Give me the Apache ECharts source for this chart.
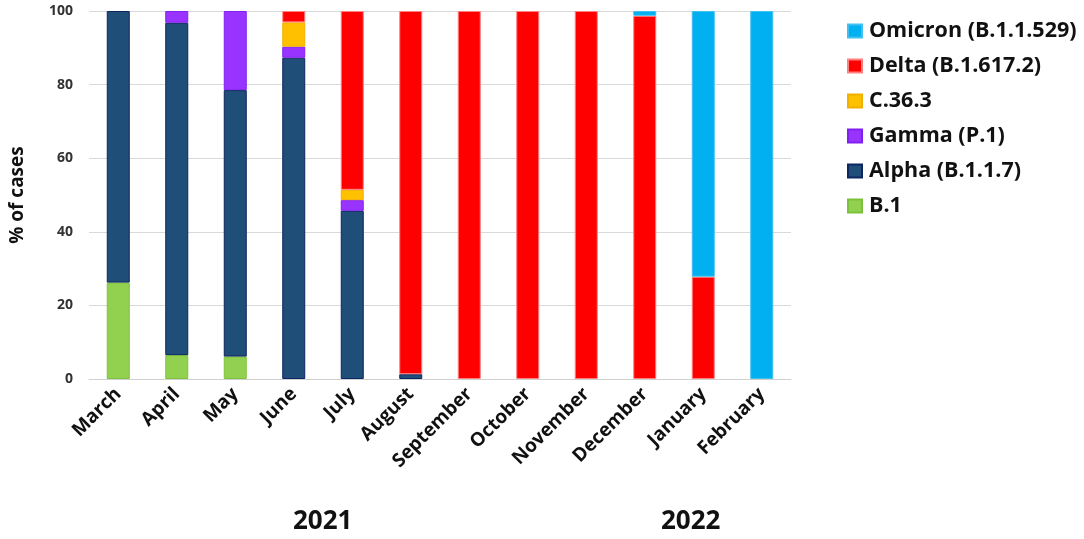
<!DOCTYPE html>
<html><head><meta charset="utf-8">
<script src="https://cdn.jsdelivr.net/npm/echarts@6/dist/echarts.min.js"></script>
<style>html,body{margin:0;padding:0;background:#fff}#c{width:1084px;height:539px}</style>
</head><body><div id="c"></div>
<script>
const categories = ['March','April','May','June','July','August','September','October','November','December','January','February'];
const b1      = [26.2, 6.5, 6.1, null, null, null, null, null, null, null, null, null];
const alpha   = [73.8, 90.3, 72.4, 87.3, 45.7, 1.3, null, null, null, null, null, null];
const gamma   = [null, 3.2, 21.5, 3.0, 2.9, null, null, null, null, null, null, null];
const c363    = [null, null, null, 6.6, 2.8, null, null, null, null, null, null, null];
const delta   = [null, null, null, 3.1, 48.6, 98.7, 100, 100, 100, 98.7, 27.8, null];
const omicron = [null, null, null, null, null, null, null, null, null, 1.3, 72.2, 100];
const yTicks = [0, 20, 40, 60, 80, 100];
const years = ['2021', '2022'];

const FONT = '"Open Sans", sans-serif';
const chart = echarts.init(document.getElementById('c'));
function s(name, data, color, border) {
  return {name, type:'bar', stack:'t', data, barWidth:23,
    itemStyle:{color, borderColor:border, borderWidth:1},
    emphasis:{disabled:true}};
}
chart.setOption({
  animation:false,
  textStyle:{fontFamily:FONT},
  grid:{left:88, right:293, top:11, bottom:160},
  legend:{
    orient:'vertical', left:842, top:14, itemGap:11,
    itemWidth:14, itemHeight:13, icon:'rect',
    textStyle:{fontSize:21.5, fontWeight:'bold', color:'#111', fontFamily:FONT, lineHeight:24, padding:[0,0,0,2]},
    data:['Omicron (B.1.1.529)','Delta (B.1.617.2)','C.36.3','Gamma (P.1)','Alpha (B.1.1.7)','B.1']
  },
  xAxis:{type:'category', data:categories,
    axisLine:{lineStyle:{color:'#d0d0d0', width:1}},
    axisTick:{show:false},
    axisLabel:{rotate:45, interval:0, fontSize:19, fontWeight:'bold', color:'#111', margin:12, fontFamily:FONT}
  },
  yAxis:{type:'value', min:0, max:100, interval:20,
    name:'% of cases', nameLocation:'middle', nameGap:62, nameRotate:90,
    nameTextStyle:{fontSize:19, fontWeight:'bold', color:'#111', fontFamily:FONT},
    axisLine:{show:false}, axisTick:{show:false},
    splitLine:{lineStyle:{color:'#d9d9d9', width:1}},
    axisLabel:{fontSize:14, fontWeight:'bold', color:'#333', margin:16, fontFamily:FONT,
      formatter:v=>yTicks.includes(v)?String(v):''}
  },
  graphic:[
    {type:'text', left:293, top:509, style:{text:years[0], font:'bold 26px '+FONT, fill:'#111'}},
    {type:'text', left:661, top:509, style:{text:years[1], font:'bold 26px '+FONT, fill:'#111'}}
  ],
  series:[
    s('B.1', b1, '#92d050', '#7cc13a'),
    s('Alpha (B.1.1.7)', alpha, '#1f4e79', '#0d2560'),
    s('Gamma (P.1)', gamma, '#9933ff', '#8020f0'),
    s('C.36.3', c363, '#ffc000', '#f0b000'),
    s('Delta (B.1.617.2)', delta, '#ff0000', '#ff8080'),
    s('Omicron (B.1.1.529)', omicron, '#00b0f0', '#40c0f0')
  ]
});
</script></body></html>
